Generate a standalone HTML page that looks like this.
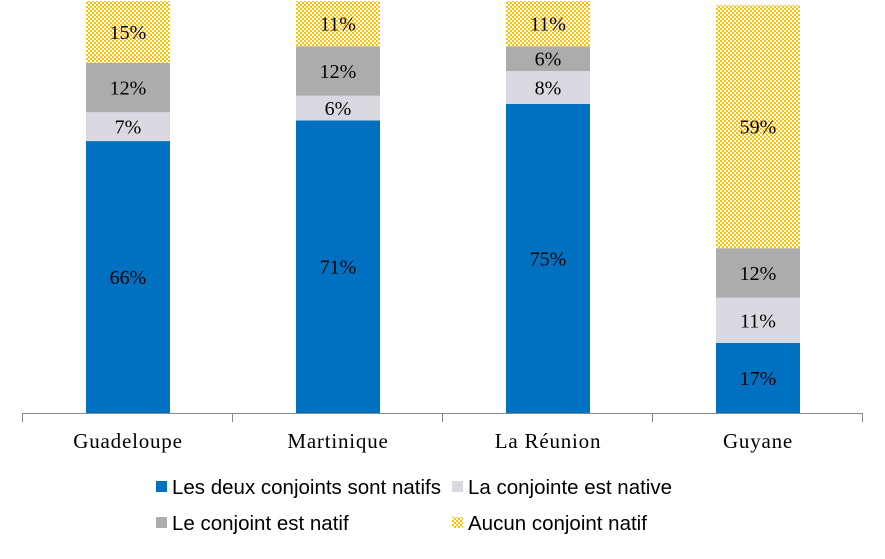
<!DOCTYPE html>
<html><head><meta charset="utf-8">
<style>
body{margin:0;background:#fff;width:885px;height:554px;overflow:hidden}
svg text{font-family:"Liberation Serif",serif}
</style></head>
<body>
<svg id="chart" width="885" height="554" xmlns="http://www.w3.org/2000/svg">
<defs>
<pattern id="chk" width="4" height="4" patternUnits="userSpaceOnUse">
<rect width="4" height="4" fill="#fff"/>
<rect width="2" height="2" fill="#ffc000"/>
<rect x="2" y="2" width="2" height="2" fill="#ffc000"/>
</pattern>
</defs>
<g id="bars"></g>
<g id="axis"></g>
<g id="legend">
<rect x="156" y="481" width="11" height="11" fill="#0070c0"/>
<text x="172" y="494" font-size="20.5" style="font-family:'Liberation Sans',sans-serif">Les deux conjoints sont natifs</text>
<rect x="452" y="481" width="11" height="11" fill="#d9d9e1"/>
<text x="468" y="494" font-size="20.5" style="font-family:'Liberation Sans',sans-serif">La conjointe est native</text>
<rect x="156" y="517" width="11" height="11" fill="#acacac"/>
<text x="172" y="530" font-size="20.5" style="font-family:'Liberation Sans',sans-serif">Le conjoint est natif</text>
<rect x="452" y="517" width="11" height="11" fill="url(#chk)"/>
<text x="468" y="530" font-size="20.5" style="font-family:'Liberation Sans',sans-serif">Aucun conjoint natif</text>
</g>
</svg>
<script>
const categories = ["Guadeloupe", "Martinique", "La Réunion", "Guyane"];
const deuxNatifs = [66, 71, 75, 17];
const conjointeNative = [7, 6, 8, 11];
const conjointNatif = [12, 12, 6, 12];
const aucunNatif = [15, 11, 11, 59];
const seriesNames = ["deux-natifs", "conjointe-native", "conjoint-natif", "aucun-natif"];

const NS = "http://www.w3.org/2000/svg";
const x0 = 22, x1 = 862, base = 413, pxPer = 4.12, barW = 84;
const band = (x1 - x0) / categories.length;
const xc = i => x0 + band * (i + 0.5) + 1;
const y = v => base - v * pxPer;
const fills = ["#0070c0", "#d9d9e1", "#acacac", "url(#chk)"];
const series = [deuxNatifs, conjointeNative, conjointNatif, aucunNatif];
const bars = document.getElementById("bars");
categories.forEach((c, i) => {
  let cum = 0;
  series.forEach((s, k) => {
    const v = s[i];
    const r = document.createElementNS(NS, "rect");
    r.setAttribute("x", xc(i) - barW / 2);
    r.setAttribute("y", y(cum + v));
    r.setAttribute("width", barW);
    r.setAttribute("height", v * pxPer);
    r.setAttribute("fill", fills[k]);
    
    
    bars.appendChild(r);
    const t = document.createElementNS(NS, "text");
    t.setAttribute("x", xc(i));
    t.setAttribute("y", y(cum + v / 2) + 7);
    t.setAttribute("text-anchor", "middle");
    t.setAttribute("font-size", "20");
    t.setAttribute("fill", "#000");
    t.textContent = v + "%";
    
    
    bars.appendChild(t);
    cum += v;
  });
});
const ax = document.getElementById("axis");
const line = document.createElementNS(NS, "line");
line.setAttribute("x1", x0); line.setAttribute("x2", x1);
line.setAttribute("y1", base + 0.5); line.setAttribute("y2", base + 0.5);
line.setAttribute("stroke", "#888");


ax.appendChild(line);
for (let i = 0; i <= categories.length; i++) {
  const tk = document.createElementNS(NS, "line");
  const xx = Math.round(x0 + band * i) + 0.5;
  tk.setAttribute("x1", xx); tk.setAttribute("x2", xx);
  tk.setAttribute("y1", base); tk.setAttribute("y2", base + 9);
  tk.setAttribute("stroke", "#888");
  
  
  ax.appendChild(tk);
}
categories.forEach((c, i) => {
  const t = document.createElementNS(NS, "text");
  t.setAttribute("x", xc(i));
  t.setAttribute("y", 448);
  t.setAttribute("text-anchor", "middle");
  t.setAttribute("font-size", "21");
  t.setAttribute("letter-spacing", "0.8");
  t.textContent = c;
  
  
  ax.appendChild(t);
});
</script>
</body></html>
